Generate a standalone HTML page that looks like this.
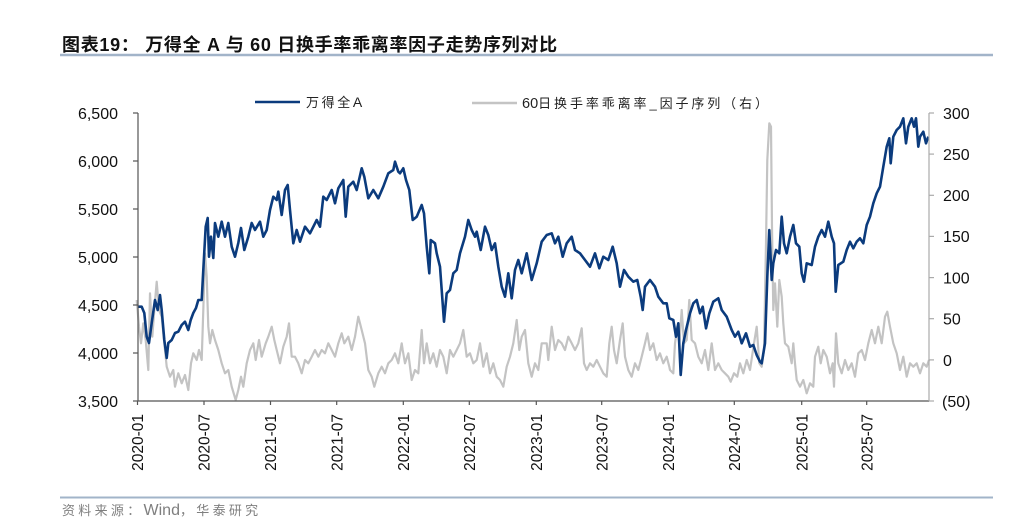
<!DOCTYPE html>
<html>
<head>
<meta charset="utf-8">
<style>
html,body{margin:0;padding:0;background:#fff;}
body{width:1024px;height:522px;overflow:hidden;}
svg{display:block;}
.t{font-family:"Liberation Sans","Noto Sans CJK SC",sans-serif;}
</style>
</head>
<body>
<svg width="1024" height="522" viewBox="0 0 1024 522" xmlns="http://www.w3.org/2000/svg">
<rect width="1024" height="522" fill="#fff"/>
<!-- title -->
<text class="t" x="62" y="51" font-size="18" font-weight="bold" letter-spacing="0.7" fill="#111">图表19：  万得全 A 与 60 日换手率乖离率因子走势序列对比</text>
<line x1="60" y1="55" x2="993" y2="55" stroke="#a2b4c9" stroke-width="2.5"/>

<!-- legend -->
<line x1="255" y1="102" x2="300" y2="102" stroke="#0b3b7d" stroke-width="2.5"/>
<text class="t" x="306" y="107" font-size="13" fill="#222"><tspan letter-spacing="2.6">万得全</tspan><tspan font-size="14">A</tspan></text>
<line x1="472" y1="103" x2="517" y2="103" stroke="#c4c4c4" stroke-width="2.5"/>
<text class="t" x="522" y="108" font-size="13" fill="#222"><tspan font-size="14.5">60</tspan><tspan letter-spacing="2.9">日换手率乖离率_因子序列（右）</tspan></text>

<!-- gray series (right axis) -->
<polyline fill="none" stroke="#c3c3c3" stroke-width="2.2" stroke-linejoin="round" points="136.7,300 139,326.7 141,343.3 143.3,323.3 145.7,340 148.3,370 150,293.3 152.3,336.7 154.3,310 156.7,281.7 159,310 161.7,316.7 164.3,343.3 166.7,366.7 170,376.7 173.3,370 175,386.7 178.3,373.3 181.7,383.3 185,375 188.3,390 191,363.3 193.3,353.3 196.7,360 199,350 201.7,360 203.3,310 205,253.3 206.7,276.7 208.3,326.7 210,343.3 212.3,330 215,340 218.3,350 221.7,363.3 225,373.3 228.3,370 231.7,386.7 235.7,400 238.3,390 241,376.7 243.3,386.7 246.7,363.3 250,350 253.3,343.3 255.7,360 259,340 261.7,356.7 265.7,343.3 268.3,336.7 271.7,326.7 274.3,340 276.7,350 280,363.3 283.3,346.7 286.7,336.7 289,323.3 291.7,356.7 295,356.7 298.3,363.3 301.7,373.3 305,360 308.3,363.3 311.7,356.7 315,350 318.3,356.7 321.7,350 325,353.3 328.3,343.3 331.7,350 335,356.7 338.3,343.3 341.7,333.3 344.3,343.3 348.3,336.7 351.7,350 355,336.7 358.3,316.7 361.7,330 365,343.3 368.3,370 371.7,376.7 374.3,386.7 378.3,373.3 381.7,366.7 385,373.3 388.3,363.3 391.7,360 395,353.3 398.3,363.3 401.7,343.3 402.7,350 405,363.3 408.3,353.3 411.7,380 415,370 418.3,373.3 421.7,330 424,363.3 426.7,343.3 430,363.3 433.3,353.3 436.7,366.7 440,350 443.3,356.7 446.7,373.3 450,350 453.3,356.7 456.7,350 460,343.3 463.3,330 466.7,356.7 470,353.3 473.3,363.3 476.7,360 480,343.3 483.3,366.7 486.7,353.3 490,373.3 493.3,363.3 496.7,376.7 500,380 503.3,386.7 506.7,366.7 510,356.7 513.3,343.3 516.7,320 519.3,350 521.7,336.7 525,330 528.3,363.3 531.7,376.7 535,363.3 538.3,370 541.7,343.3 546.7,343.3 548.3,360 551.7,326.7 555,350 558.3,340 561.7,343.3 565,350 568.3,336.7 571.7,343.3 575,350 578.3,343.3 581.7,328.3 584,363.3 586.7,370 590,363.3 593.3,366.7 596.7,360 600,366.7 603.3,373.3 606.7,376.7 609.3,343.3 611.7,326.7 614,350 616.7,363.3 620,340 622.7,323.3 625,356.7 628.3,370 631.7,376.7 635,363.3 638.3,370 641.7,356.7 645,343.3 647.3,333.3 650,350 653.3,343.3 656.7,360 660,353.3 663.3,363.3 666.7,356.7 669.3,366.7 670,370 673.3,373.3 675,343.3 677.3,326.7 679.3,343.3 681.7,310 684,343.3 686.7,340 689.3,300 691.7,340 695,343.3 698.3,356.7 701.7,363.3 705,350 708.3,370 711.7,343.3 715,370 718.3,363.3 721.7,370 725,373.3 728.3,376.7 730.7,381.7 734,373.3 737.3,376.7 740,363.3 743.3,373.3 746.7,360 750,370 754,343.3 756.7,326.7 759.3,363.3 761.7,366.7 764,350 766,243.3 767.3,160 769.3,123.3 771,126.7 772,226.7 773.3,310 775,283.3 777.3,326.7 779.3,280 781.7,296.7 783.3,323.3 785,343.3 788.3,346.7 791.7,363.3 793.3,343.3 795,363.3 796.7,380 800,386.7 803.3,380 806.7,393.3 810,383.3 813.3,386.7 815,356.7 818.3,346.7 820.7,363.3 823.3,350 826.7,356.7 830,373.3 832.7,363.3 834,386.7 836,333.3 838.3,363.3 841.7,373.3 845,360 848.3,370 851.7,363.3 855,376.7 858.3,353.3 861.7,350 865,360 868.3,343.3 871.7,330 875,343.3 878.3,326.7 881.7,343.3 885,316.7 887.3,311.7 890,326.7 893.3,343.3 896.7,353.3 900,370 903.3,356.7 906.7,376.7 910,363.3 913.3,366.7 916.7,363.3 920,373.3 923.3,363.3 926.7,366.7 929,360"/>

<!-- blue series (left axis) -->
<polyline fill="none" stroke="#0b3b7d" stroke-width="2.6" stroke-linejoin="round" points="137.7,306.7 141.7,306.7 144.3,313 146.7,336.7 149,343 151.7,323 155,300 157.7,310 160,295 161.7,310 164.3,340 166.7,358 168.3,343 171.7,340 175,333 178.3,331.7 181.7,325 185,321.7 188.3,330 190.7,320 193.3,313 196,308 198.3,300 201.7,300 203.3,270 205.7,226.7 207.7,218 209,256.7 211,236.7 213.3,258 215,223 218.3,236.7 221.7,221.7 225,236.7 228.3,223 231.7,246.7 235,256.7 238.3,243 241,228 244.3,250 248.3,236.7 251.7,223 255,230 260,221.7 263.3,236.7 266.7,230 270,210 273.3,196.7 276.7,200 278.3,191.7 281.7,215 285,190 287.7,185 290,210 293.3,243.3 296.7,230 300,241.7 305,226.7 310,233.3 316.7,220 320,226.7 323.3,196.7 326.7,200 331.7,190 335,203.3 338.3,188.3 343.3,180 345.7,216.7 348.3,186.7 353.3,181.7 356.7,190 361.7,168.3 364.3,176.7 368.3,198.3 373.3,190 378.3,198.3 383.3,186.7 388.3,173.3 393.3,170 395,161.7 398.3,171.7 400,173.3 403.3,168.3 406,180 409.3,190 412.7,220 416.7,216.7 421.7,205 424,213.3 426.7,246.7 429.3,273.3 430.7,240 435,243.3 436.7,253.3 440,266.7 441.7,290 444,321.7 446.7,293.3 450,290 453.3,273.3 456.7,270 460,253.3 465,236.7 468.3,220 471.7,230 475,236.7 476.7,231.7 480.7,250 485,226.7 488.3,235 491.7,250 495,243.3 498.3,266.7 501.7,286.7 505,296.7 508.3,273.3 511.7,298.3 515,270 518.3,260 521.7,273.3 526.7,253.3 531.7,280 536.7,263.3 541.7,241.7 546.7,235 551.7,233.3 555,243.3 558.3,236.7 562.7,256.7 566.7,243.3 571.7,236.7 575,250 580,253.3 585,260 590,266.7 595,253.3 599.3,268.3 603.3,256.7 608.3,260 612.7,246.7 616.7,263.3 620,286.7 624,270 628.3,276.7 633.3,281.7 637.3,280 640.7,296.7 642.7,310 645,286.7 650,280 655,286.7 658.3,296.7 663.3,303.3 666.7,303.3 669.3,318.3 673.3,320 676,336.7 678.3,323.3 680.7,375 683.3,343.3 686,330 690,313.3 693.3,303.3 696.7,300 700,313.3 702.7,306.7 706,328.3 709.3,313.3 713.3,301.7 718.3,298.3 721.7,310 726.7,316.7 731.7,330 735,336.7 738.3,331.7 741.7,343.3 746,333.3 750,346.7 753.3,345 756.7,355 760,361.7 761.7,363.3 765,343.3 767.3,276.7 769.3,230 771.7,280 773.3,263.3 776,250 779.3,253.3 781.7,216.7 784,243.3 786.7,253.3 790,236.7 793.3,225 796,243.3 799.3,246.7 801.7,273.3 804,281.7 806.7,263.3 811.7,265 815,246.7 818.3,236.7 821.7,230 825,236.7 828.3,221.7 831.7,236.7 834,243.3 835.7,291.7 838.3,265 843.3,261.7 846.7,250 850,241.7 853.3,248.3 856.7,241.7 860,238.3 863.3,243.3 866.7,225 870,216.7 873.3,203.3 876.7,193.3 880,186.7 883.3,166.7 886.7,146.7 889.3,138.3 890.7,163.3 893.3,136.7 896.7,130 900,126.7 903.3,118.3 906,143.3 908.3,126.7 911.7,118.3 914,126.7 916,118.3 918.3,146.7 920,136.7 923.3,131.7 926,143.3 928.3,136.7"/>

<!-- axes -->
<g stroke="#555" stroke-width="1.2">
<line x1="138" y1="113" x2="138" y2="401"/>
<line x1="138" y1="401" x2="929" y2="401"/>
<line x1="133" y1="113" x2="138" y2="113"/>
<line x1="133" y1="161" x2="138" y2="161"/>
<line x1="133" y1="209" x2="138" y2="209"/>
<line x1="133" y1="257" x2="138" y2="257"/>
<line x1="133" y1="305" x2="138" y2="305"/>
<line x1="133" y1="353" x2="138" y2="353"/>
<line x1="133" y1="401" x2="138" y2="401"/>
<line x1="137.5" y1="401" x2="137.5" y2="405"/>
<line x1="204" y1="401" x2="204" y2="405"/>
<line x1="270.5" y1="401" x2="270.5" y2="405"/>
<line x1="336.7" y1="401" x2="336.7" y2="405"/>
<line x1="403.3" y1="401" x2="403.3" y2="405"/>
<line x1="469.3" y1="401" x2="469.3" y2="405"/>
<line x1="536.3" y1="401" x2="536.3" y2="405"/>
<line x1="601.7" y1="401" x2="601.7" y2="405"/>
<line x1="668.3" y1="401" x2="668.3" y2="405"/>
<line x1="734.3" y1="401" x2="734.3" y2="405"/>
<line x1="801.7" y1="401" x2="801.7" y2="405"/>
<line x1="866.7" y1="401" x2="866.7" y2="405"/>
</g>
<g stroke="#aaa" stroke-width="1.2">
<line x1="929" y1="113" x2="929" y2="401"/>
<line x1="929" y1="113" x2="934" y2="113"/>
<line x1="929" y1="154.1" x2="934" y2="154.1"/>
<line x1="929" y1="195.3" x2="934" y2="195.3"/>
<line x1="929" y1="236.4" x2="934" y2="236.4"/>
<line x1="929" y1="277.6" x2="934" y2="277.6"/>
<line x1="929" y1="318.7" x2="934" y2="318.7"/>
<line x1="929" y1="359.9" x2="934" y2="359.9"/>
<line x1="929" y1="401" x2="934" y2="401"/>
</g>

<!-- left labels -->
<g class="t" font-size="16" fill="#111" text-anchor="end">
<text x="118" y="119">6,500</text>
<text x="118" y="167">6,000</text>
<text x="118" y="215">5,500</text>
<text x="118" y="263">5,000</text>
<text x="118" y="311">4,500</text>
<text x="118" y="359">4,000</text>
<text x="118" y="407">3,500</text>
</g>
<!-- right labels -->
<g class="t" font-size="16" fill="#111">
<text x="943" y="119">300</text>
<text x="943" y="160">250</text>
<text x="943" y="201">200</text>
<text x="943" y="242">150</text>
<text x="943" y="283.5">100</text>
<text x="943" y="324.5">50</text>
<text x="943" y="366">0</text>
<text x="942" y="407">(50)</text>
</g>
<!-- x labels -->
<g class="t" font-size="15.5" fill="#111" text-anchor="end">
<text transform="translate(143.2,414) rotate(-90)">2020-01</text>
<text transform="translate(209.7,414) rotate(-90)">2020-07</text>
<text transform="translate(276.2,414) rotate(-90)">2021-01</text>
<text transform="translate(342.4,414) rotate(-90)">2021-07</text>
<text transform="translate(409,414) rotate(-90)">2022-01</text>
<text transform="translate(475,414) rotate(-90)">2022-07</text>
<text transform="translate(542,414) rotate(-90)">2023-01</text>
<text transform="translate(607.4,414) rotate(-90)">2023-07</text>
<text transform="translate(674,414) rotate(-90)">2024-01</text>
<text transform="translate(740,414) rotate(-90)">2024-07</text>
<text transform="translate(807.4,414) rotate(-90)">2025-01</text>
<text transform="translate(872.4,414) rotate(-90)">2025-07</text>
</g>

<!-- source -->
<line x1="60" y1="497.5" x2="993" y2="497.5" stroke="#a2b4c9" stroke-width="2"/>
<text class="t" x="62" y="515" font-size="13" fill="#7f7f7f"><tspan letter-spacing="3.3">资料来源：</tspan><tspan font-size="16">Wind</tspan><tspan letter-spacing="3.3">，华泰研究</tspan></text>
</svg>
</body>
</html>
